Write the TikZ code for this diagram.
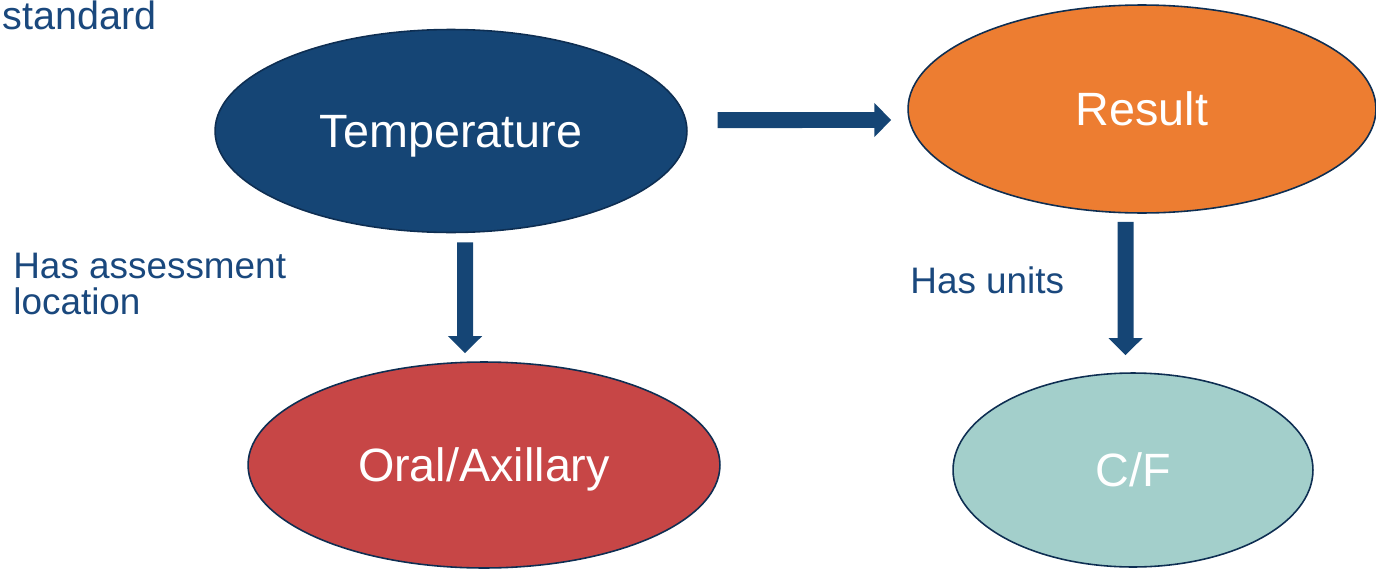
\documentclass[tikz,border=0pt]{standalone}
\usepackage{xcolor}
\usepackage{fontspec}
\setmainfont{Liberation Sans}
\usepackage{tikz}
\usetikzlibrary{shapes,arrows.meta,positioning,shapes.geometric}
\definecolor{tempblue}{RGB}{21, 69, 117}
\definecolor{edgenavy}{RGB}{14, 46, 82}
\definecolor{resultorange}{RGB}{237, 125, 49}
\definecolor{sitered}{RGB}{199, 70, 70}
\definecolor{unitteal}{RGB}{163, 207, 203}
\definecolor{labelblue}{RGB}{26, 72, 125}

\begin{document}
\begin{tikzpicture}[
        x=0.02cm, y=-0.02cm,
        concept/.style={draw=edgenavy, line width=0.9pt, ellipse, inner sep=0pt, text depth=0pt, text=white, font=\fontsize{26.6}{32}\selectfont},
        relation/.style={text=labelblue, inner sep=0pt, align=left, font=\fontsize{21}{20.5}\selectfont},
        blockarrow/.style={draw=tempblue, line width=0.32cm, -{Triangle[width=0.66cm, length=0.34cm]}}
    ]
        \useasboundingbox (0,0) rectangle (1376,568);

        % Concepts
        \node[concept, fill=tempblue, minimum width=9.44cm, minimum height=4.06cm] (temp) at (451,131) {Temperature};
        \node[concept, fill=resultorange, minimum width=9.36cm, minimum height=4.16cm] (result) at (1142,109) {Result};
        \node[concept, fill=sitered, minimum width=9.44cm, minimum height=4.12cm] (oral) at (484,465) {Oral/Axillary};
        \node[concept, fill=unitteal, minimum width=7.2cm, minimum height=3.88cm] (cf) at (1133,470) {C/F};

        % Labels
        \node[relation, anchor=base east, font=\fontsize{22.5}{26}\selectfont] (std) at (157,30) {standard};
        \node[relation, anchor=north west] (haslocation) at (13,253) {Has assessment\\location};
        \node[relation, anchor=west] (hasunits) at (910,280) {Has units};

        % Relations
        \draw[blockarrow, shorten <=0.6cm, shorten >=0.32cm] ([yshift=0.22cm]temp.east) -- ([yshift=-0.22cm]result.west);
        \draw[blockarrow, shorten <=0.18cm, shorten >=0.16cm] ([xshift=0.28cm]temp.south) -- ([xshift=-0.38cm]oral.north);
        \draw[blockarrow, shorten <=0.16cm, shorten >=0.34cm] ([xshift=-0.33cm]result.south) -- ([xshift=-0.15cm]cf.north);
    \end{tikzpicture}
\end{document}
